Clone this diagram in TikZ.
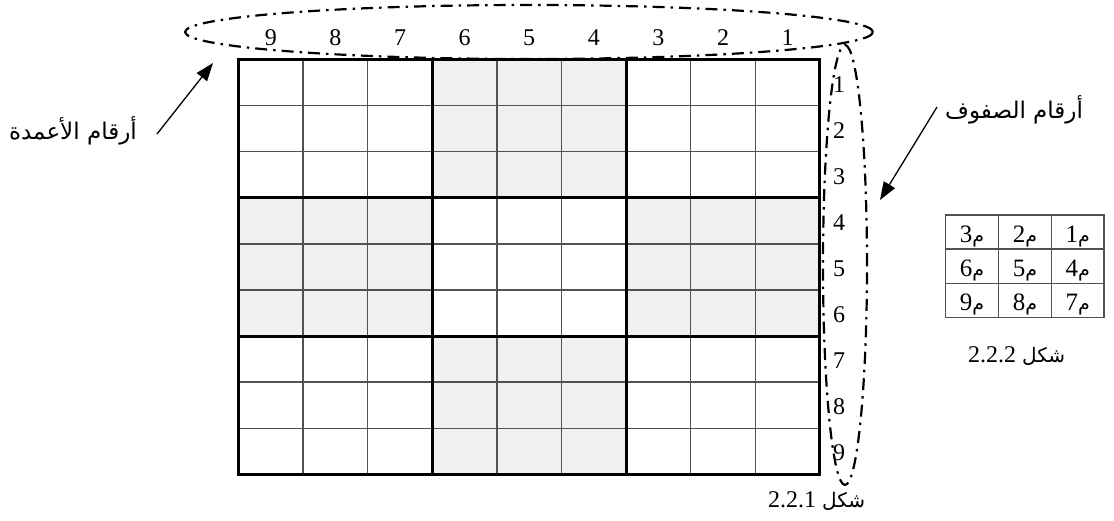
\documentclass[tikz,border=0pt]{standalone}
\usepackage{fontspec}
\setmainfont{Liberation Serif}
\newfontfamily\arabicfont[Script=Arabic]{DejaVu Sans}
\TeXXeTstate=1
\usetikzlibrary{arrows.meta,shapes.geometric}
\begin{document}
\begin{tikzpicture}[x=1pt,y=-1pt,
  gridthin/.style={draw=black!68,line width=1.5pt},
  gridthick/.style={draw=black,line width=3pt,line cap=rect},
  shadebox/.style={fill=black!6},
  numlbl/.style={anchor=base,inner sep=0pt,font=\fontsize{24}{28}\selectfont},
  arlbl/.style={inner sep=0pt,font=\arabicfont\fontsize{23}{27}\selectfont},
  dashdot/.style={draw=black,line width=2.2pt,dash pattern=on 12pt off 6pt on 2.5pt off 6pt},
  arr/.style={line width=1.3pt,-{Triangle[length=18pt,width=13pt]}},
  tblline/.style={draw=black!68,line width=1.5pt},
  caption/.style={anchor=base west,inner sep=0pt,font=\fontsize{24}{28}\selectfont}]
\useasboundingbox (0,0) rectangle (1114,520);
\def\gx{238.5}\def\gy{59.5}\def\cw{64.6}\def\ch{46.1}
% shaded blocks
\foreach \bx/\by in {1/0,0/1,2/1,1/2}
  \fill[shadebox] (\gx+\bx*3*\cw,\gy+\by*3*\ch) rectangle ++(3*\cw,3*\ch);
% thin lines
\foreach \i in {1,2,4,5,7,8}{
  \draw[gridthin] (\gx+\i*\cw,\gy) -- ++(0,9*\ch);
  \draw[gridthin] (\gx,\gy+\i*\ch) -- ++(9*\cw,0);
}
% thick lines
\foreach \i in {0,3,6,9}{
  \draw[gridthick] (\gx+\i*\cw,\gy) -- ++(0,9*\ch);
  \draw[gridthick] (\gx,\gy+\i*\ch) -- ++(9*\cw,0);
}
% column numbers
\foreach \i in {1,...,9}
  \node[numlbl] (c\i) at ({\gx+(9-\i+0.5)*\cw},45) {\i};
% row numbers
\foreach \i in {1,...,9}
  \node[numlbl] (r\i) at (839,{\gy+(\i-0.5)*\ch+9.5}) {\i};
% ellipses
\node[ellipse,dashdot,minimum width=688pt,minimum height=54pt,inner sep=0pt] (colell) at (529,32) {};
\node[ellipse,dashdot,minimum width=44pt,minimum height=440pt,inner sep=0pt] (rowell) at (845,265) {};
% labels and arrows
\node[arlbl,anchor=east] (collbl) at (137,131) {\beginR أرقام الأعمدة\endR};
\coordinate (coltip) at (213,63);
\draw[arr] ([xshift=20pt,yshift=-3pt]collbl.east) -- (coltip);
\node[arlbl,anchor=west] (rowlbl) at (945,110) {\beginR أرقام الصفوف\endR};
\coordinate (rowtip) at (880,200);
\draw[arr] ([xshift=-8pt,yshift=3pt]rowlbl.west) -- (rowtip);
% small table
\def\tx{945.7}\def\ty{215}\def\tw{52.8}\def\th{34.2}
\foreach \r in {0,1,2}
  \foreach \c in {0,1,2}{
    \pgfmathtruncatemacro\n{3*\r+3-\c}
    \node[numlbl,font=\fontsize{25}{29}\selectfont] (t\n) at ({\tx+(\c+0.5)*\tw},{\ty+(\r+0.5)*\th+10}) {\n{\arabicfont\fontsize{19}{21}\selectfont\beginR م\endR}};
  }
\draw[tblline] (\tx,\ty) rectangle ++(3*\tw,3*\th);
\foreach \i in {1,2}{
  \draw[tblline] (\tx+\i*\tw,\ty) -- ++(0,3*\th);
  \draw[tblline] (\tx,\ty+\i*\th) -- ++(3*\tw,0);
}
% captions
\node[caption] (cap2) at (968,362) {2.2.2 {\arabicfont\fontsize{20}{24}\selectfont\beginR شكل\endR}};
\node[caption] (cap1) at (768,507) {2.2.1 {\arabicfont\fontsize{20}{24}\selectfont\beginR شكل\endR}};
\end{tikzpicture}
\end{document}
